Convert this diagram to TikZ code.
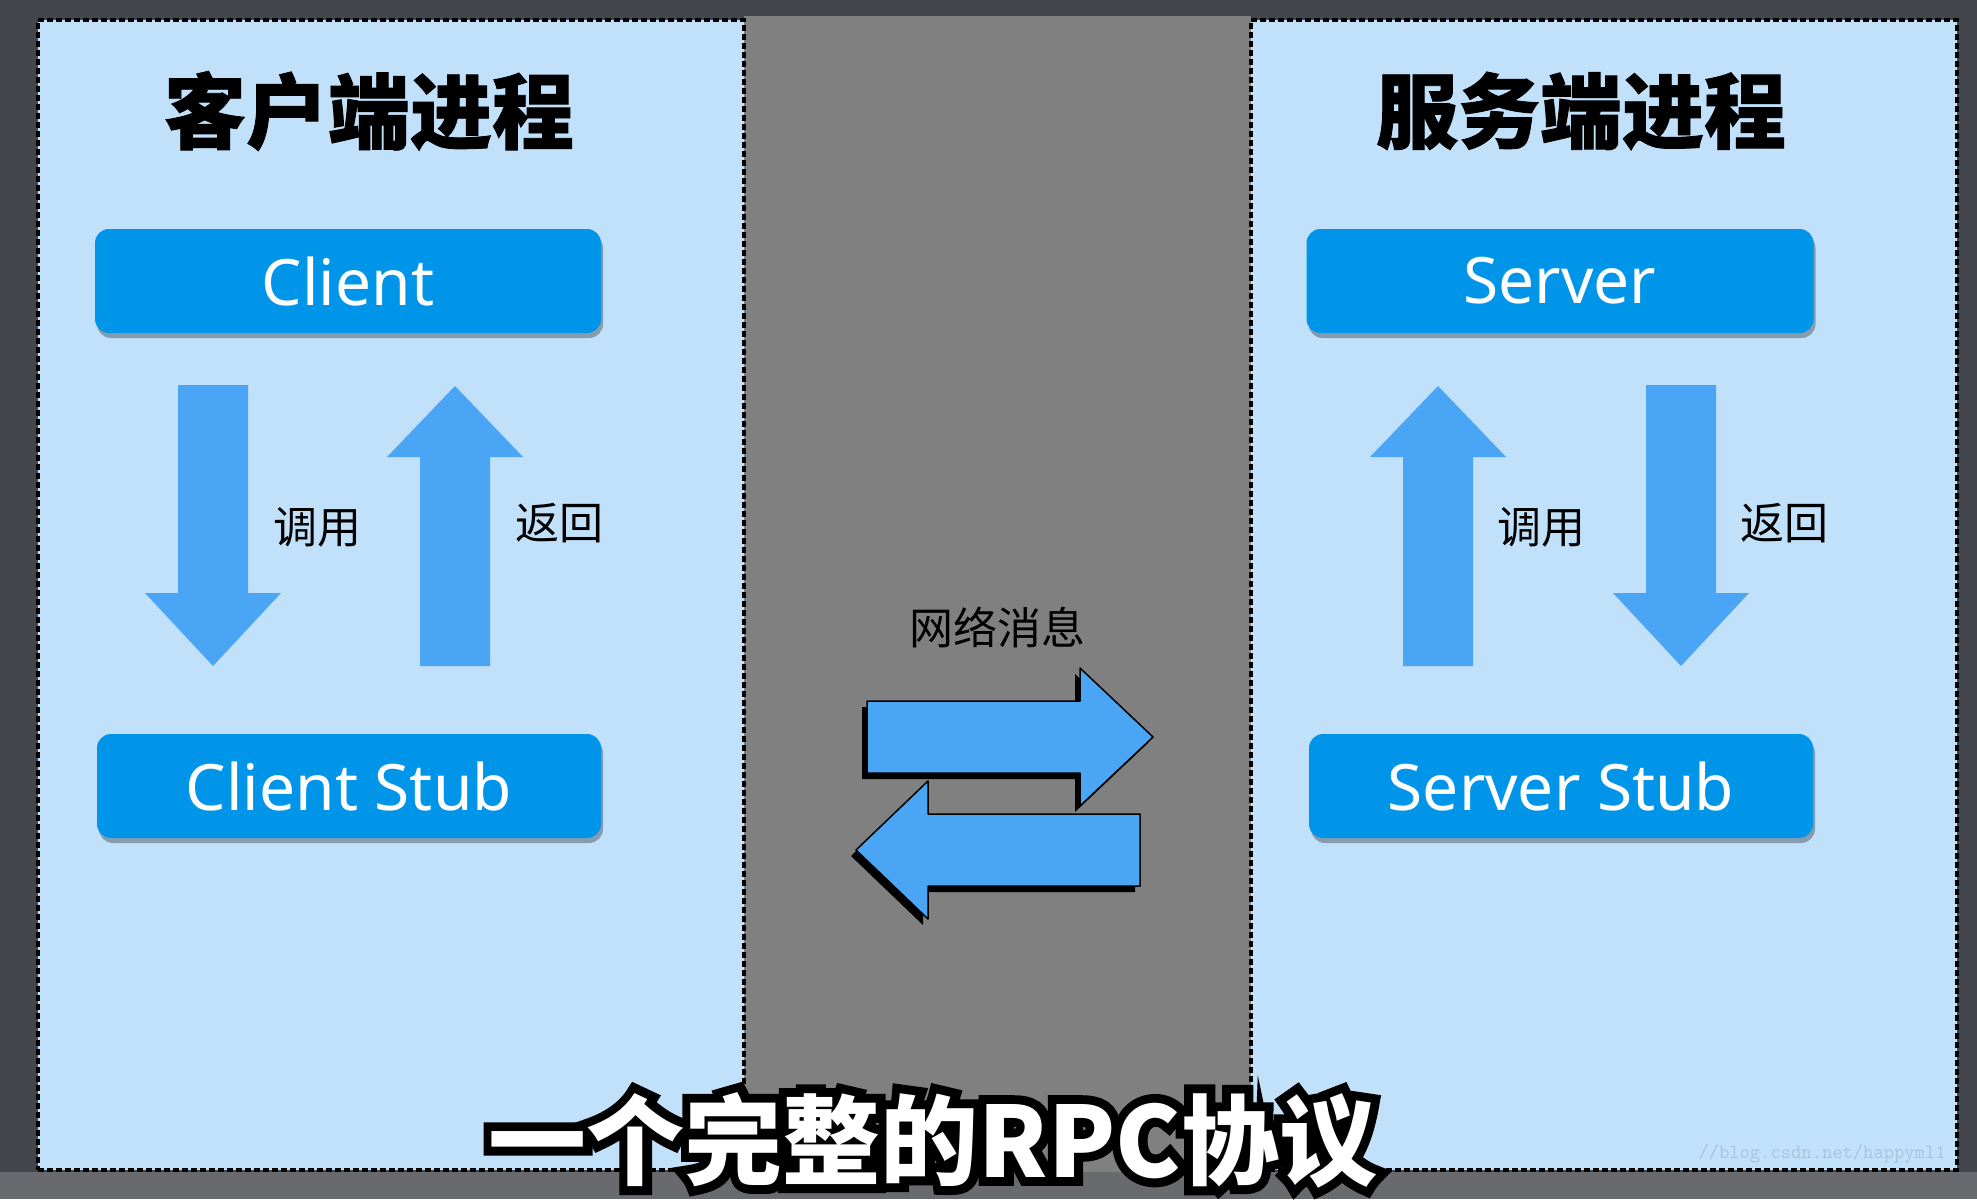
\documentclass[tikz,border=0pt]{standalone}
\usepackage{fontspec}
\setmainfont{Noto Sans}
\newfontfamily\cjk{Noto Sans CJK SC}
\usetikzlibrary{shadows,calc}
\definecolor{panelbg}{RGB}{193,224,250}
\definecolor{boxblue}{RGB}{0,149,232}
\definecolor{arrowblue}{RGB}{74,165,245}
\definecolor{midgray}{RGB}{128,128,128}
\definecolor{darkbg}{RGB}{66,69,74}
\definecolor{bottomgray}{RGB}{104,106,110}
\definecolor{wmark}{RGB}{170,195,215}
\tikzset{
  panel/.style={draw=black, fill=panelbg, line width=3.5pt, dash pattern=on 6pt off 3pt, inner sep=0pt},
  ptitle/.style={font=\cjk\bfseries\addfontfeatures{FakeBold=1}\fontsize{82}{90}\selectfont, text=black},
  bluebox/.style={rounded corners=14pt, fill=boxblue, text=white, inner sep=0pt,
    font=\fontsize{64}{70}\selectfont, minimum height=104pt,
    drop shadow={shadow xshift=2pt, shadow yshift=-5pt, opacity=0.3, fill=black}},
  lbl/.style={font=\cjk\fontsize{44}{50}\selectfont, text=black},
  blockarrow/.style={fill=arrowblue},
  netarrow/.style={fill=arrowblue, draw=black, line width=1.5pt, line join=round},
  netshadow/.style={fill=black, line join=round},
  subfont/.style={font=\cjk\bfseries\fontsize{98}{104}\selectfont, inner sep=0pt}
}
\newcommand\downblock[3]{%
  \fill[blockarrow] (#1-35,#2) -- (#1+35,#2) -- (#1+35,#3-73) -- (#1+68,#3-73) -- (#1,#3)
    -- (#1-68,#3-73) -- (#1-35,#3-73) -- cycle;}
\newcommand\upblock[3]{%
  \fill[blockarrow] (#1-35,#2) -- (#1+35,#2) -- (#1+35,#3+71) -- (#1+68,#3+71) -- (#1,#3)
    -- (#1-68,#3+71) -- (#1-35,#3+71) -- cycle;}
% outlined text: a stroked black copy under a white copy
\newcommand\outlined[1]{%
  \rlap{\color{black}\addfontfeatures{FakeBold=18}#1}%
  {\color{white}#1}}
\begin{document}
\begin{tikzpicture}[x=1pt,y=-1pt]
\useasboundingbox (0,0) rectangle (1977,1199);
% background
\fill[darkbg] (0,0) rectangle (1977,1199);
\fill[bottomgray] (0,1172) rectangle (1977,1199);
\fill[midgray] (744,16) rectangle (1251,1172);
% panels
\node[panel, minimum width=706pt, minimum height=1150pt] (lpanel) at (391,595) {};
\node[panel, minimum width=706pt, minimum height=1150pt] (rpanel) at (1604,595) {};
% titles
\node[ptitle] (ltitle) at (369,111) {客户端进程};
\node[ptitle] (rtitle) at (1581,111) {服务端进程};
% boxes
\node[bluebox, minimum width=506pt] (client) at (348,281) {Client};
\node[bluebox, minimum width=504pt] (cstub) at (349,786) {Client Stub};
\node[bluebox, minimum width=507pt] (server) at (1560,281) {Server};
\node[bluebox, minimum width=504pt] (sstub) at (1561,786) {Server Stub};
% vertical block arrows
\downblock{213}{385}{666}
\upblock{455}{666}{386}
\upblock{1438}{666}{386}
\downblock{1681}{385}{666}
% labels
\node[lbl] (lcall) at (317,527) {调用};
\node[lbl] (lret) at (559,523) {返回};
\node[lbl] (rcall) at (1541,527) {调用};
\node[lbl] (rret) at (1784,523) {返回};
\node[lbl] (net) at (997,627) {网络消息};
% network arrows
\begin{scope}[shift={(-5,6)}]
\fill[netshadow] (867,701) -- (1080,701) -- (1080,668) -- (1153,737) -- (1080,806) -- (1080,773) -- (867,773) -- cycle;
\fill[netshadow] (1140,814) -- (928,814) -- (928,781) -- (856,850) -- (928,919) -- (928,886) -- (1140,886) -- cycle;
\end{scope}
\draw[netarrow] (867,701) -- (1080,701) -- (1080,668) -- (1153,737) -- (1080,806) -- (1080,773) -- (867,773) -- cycle;
\draw[netarrow] (1140,814) -- (928,814) -- (928,781) -- (856,850) -- (928,919) -- (928,886) -- (1140,886) -- cycle;
% watermark
\node[font=\ttfamily\fontsize{20}{22}\selectfont, text=wmark] (wm) at (1822,1154) {//blog.csdn.net/happyml1};
% subtitle with outline
\node[subfont] (subtitle) at (933,1140) {\outlined{一个完整的RPC协议}};
\end{tikzpicture}
\end{document}
